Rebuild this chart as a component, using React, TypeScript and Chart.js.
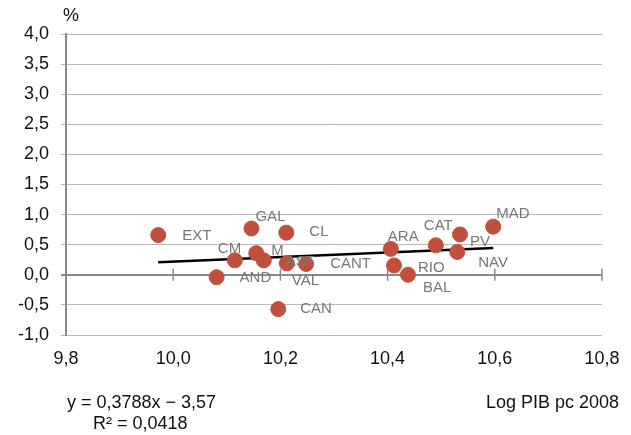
import { useEffect, useRef } from "react";
import { Chart, registerables } from "chart.js";

Chart.register(...registerables);

// regions (Spanish autonomous communities)
const regions = ["EXT", "GAL", "CL", "CM", "M", "AST", "VAL", "CANT", "AND", "CAN", "ARA", "CAT", "PV", "NAV", "MAD", "RIO", "BAL"];
// log GDP per capita 2008
const logPib = [9.972, 10.146, 10.211, 10.115, 10.155, 10.169, 10.212, 10.248, 10.081, 10.196, 10.406, 10.49, 10.535, 10.53, 10.597, 10.412, 10.438];
// growth, %
const growth = [0.66, 0.77, 0.7, 0.24, 0.36, 0.24, 0.19, 0.18, -0.04, -0.57, 0.43, 0.49, 0.67, 0.38, 0.8, 0.155, 0.0];

// trend line ends (y = 0,3788x - 3,57)
const trendX = [9.972, 10.597];
const trendY = [0.207, 0.444];

const xTicks = [9.8, 10.0, 10.2, 10.4, 10.6, 10.8];

// label offsets from the point, px
const labelOffsets: [number, number][] = [
  [24, 1], [4, -12], [23, -1], [-17, -11], [15, -2], [22, 2], [5, 17], [24, 0],
  [23, 1], [22, 0], [-3, -12], [-12, -19], [10, 7], [21, 11], [3, -13], [24, 2], [15, 13],
];

const FONT = "'Liberation Sans', Arial, Helvetica, sans-serif";
const comma = (v: number, d: number) => v.toFixed(d).replace(".", ",");

const extras = {
  id: "extras",
  beforeDatasetsDraw(chart: any) {
    const { ctx, scales } = chart;
    const y0 = scales.y.getPixelForValue(0);
    ctx.save();
    ctx.strokeStyle = "#8a8a8a";
    ctx.lineWidth = 1.5;
    xTicks.slice(1).forEach((v) => {
      const px = scales.x.getPixelForValue(v);
      ctx.beginPath();
      ctx.moveTo(px, y0 - 6);
      ctx.lineTo(px, y0 + 6);
      ctx.stroke();
    });
    ctx.restore();
  },
  afterDatasetsDraw(chart: any) {
    const { ctx } = chart;
    const meta = chart.getDatasetMeta(0);
    ctx.save();
    ctx.font = `15px ${FONT}`;
    ctx.fillStyle = "#777";
    ctx.textAlign = "left";
    ctx.textBaseline = "middle";
    meta.data.forEach((pt: any, i: number) => {
      const [dx, dy] = labelOffsets[i];
      ctx.fillText(regions[i], pt.x + dx, pt.y + dy);
    });
    ctx.fillStyle = "#111";
    ctx.font = `18px ${FONT}`;
    ctx.fillText("%", 63, 16);
    ctx.fillText("y = 0,3788x \u2212 3,57", 67, 403);
    ctx.fillText("R\u00b2 = 0,0418", 93, 424);
    ctx.textAlign = "right";
    ctx.fillText("Log PIB pc 2008", 619, 403);
    ctx.restore();
  },
};

export default function App() {
  const canvasRef = useRef<HTMLCanvasElement | null>(null);

  useEffect(() => {
    if (!canvasRef.current) return;
    const chart = new Chart(canvasRef.current, {
      type: "scatter",
      data: {
        datasets: [
          {
            label: "CCAA",
            data: logPib.map((x, i) => ({ x, y: growth[i] })),
            backgroundColor: "#c0503c",
            borderColor: "#c0503c",
            pointRadius: 7.5,
            order: 1,
          },
          {
            type: "line",
            label: "trend",
            data: trendX.map((x, i) => ({ x, y: trendY[i] })),
            borderColor: "#000",
            borderWidth: 2.5,
            pointRadius: 0,
            fill: false,
            order: 2,
          } as any,
        ],
      },
      options: {
        responsive: false,
        animation: false,
        layout: { padding: { top: 34, right: 29, bottom: 58, left: 0 } },
        plugins: { legend: { display: false }, tooltip: { enabled: false } },
        scales: {
          x: {
            type: "linear",
            min: 9.8,
            max: 10.8,
            afterBuildTicks: (scale: any) => {
              scale.ticks = xTicks.map((value) => ({ value }));
            },
            grid: { display: false },
            border: { display: false },
            ticks: {
              padding: 5,
              color: "#111",
              font: { size: 18, family: FONT },
              callback: (v: any) => comma(Number(v), 1),
            },
            afterFit: (scale: any) => {
              scale.height = 42;
            },
          },
          y: {
            min: -1,
            max: 4,
            ticks: {
              stepSize: 0.5,
              padding: 12,
              color: "#111",
              font: { size: 18, family: FONT },
              callback: (v: any) => comma(Number(v), 1),
            },
            grid: {
              color: (c: any) => (c.tick && c.tick.value === 0 ? "#8a8a8a" : "#b8b8b8"),
              lineWidth: (c: any) => (c.tick && c.tick.value === 0 ? 2 : 1),
              tickLength: 5,
            },
            border: { color: "#8a8a8a", width: 2 },
            afterFit: (scale: any) => {
              scale.width = 66;
            },
          },
        },
      },
      plugins: [extras],
    });
    return () => chart.destroy();
  }, []);

  return (
    <div style={{ position: "absolute", left: 0, top: 0, width: 631, height: 435, background: "#fff" }}>
      <canvas ref={canvasRef} width={631} height={435} />
    </div>
  );
}
